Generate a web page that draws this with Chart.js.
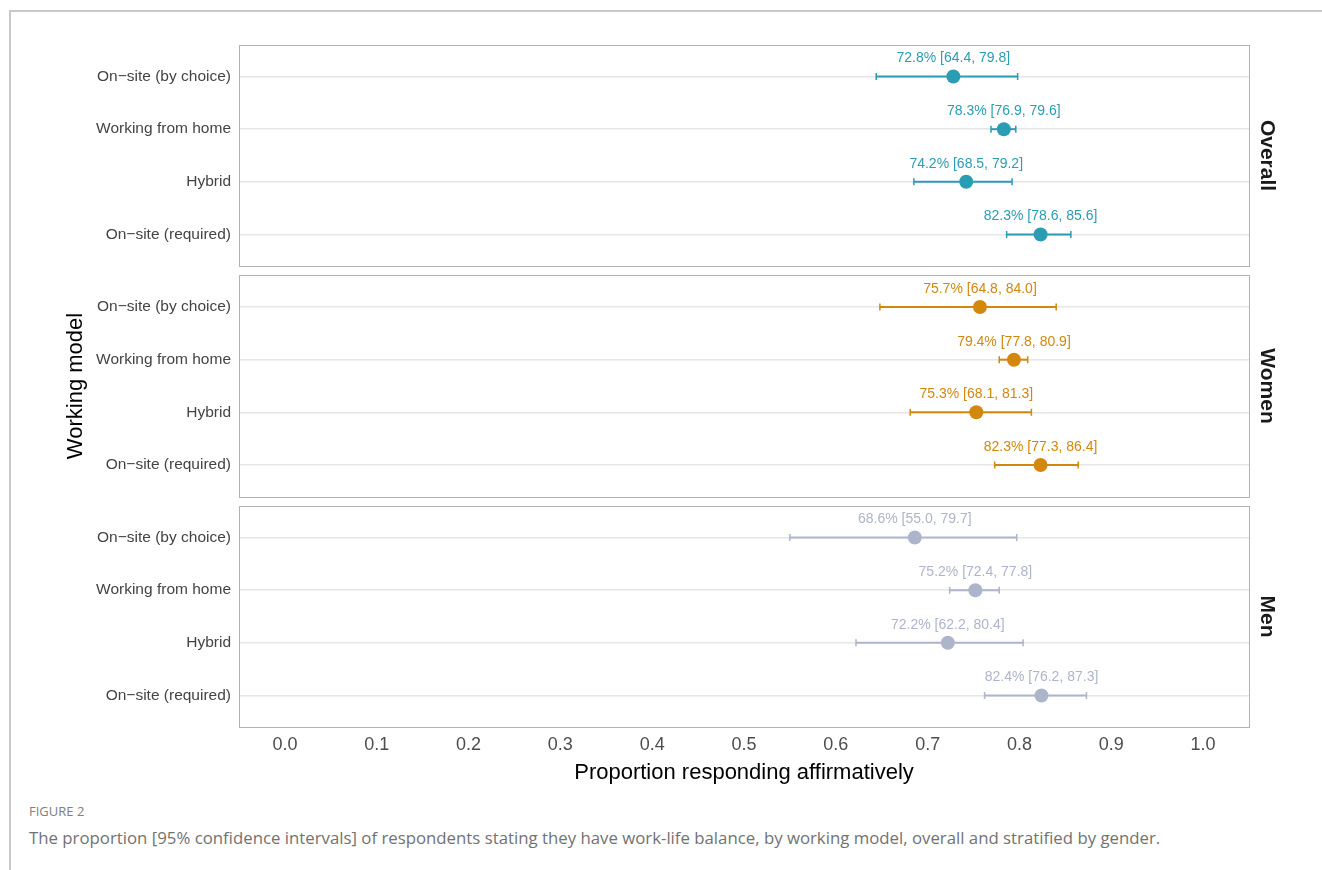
<!DOCTYPE html>
<html>
<head>
<meta charset="utf-8">
<script src="https://cdn.jsdelivr.net/npm/chart.js@4.4.1/dist/chart.umd.min.js"></script>
<style>
  html, body { margin: 0; padding: 0; background: #fff; width: 1322px; height: 870px; overflow: hidden; }
  #frameTop { position: absolute; left: 9px; top: 10px; width: 1313px; height: 0; border-top: 2px solid #c9c9c9; }
  #frameLeft { position: absolute; left: 9px; top: 10px; width: 0; height: 860px; border-left: 2px solid #c9c9c9; }
  #wrap { position: absolute; left: 0; top: 0; width: 1322px; height: 800px; }
  #figLabel { position: absolute; left: 29px; top: 802px; font: 400 13px "Open Sans", sans-serif; color: #808080; }
  #caption { position: absolute; left: 29px; top: 826px; font: 400 16.8px "Open Sans", sans-serif; color: #727272; white-space: nowrap; }
</style>
</head>
<body>
<div id="frameTop"></div>
<div id="frameLeft"></div>
<div id="wrap"><canvas id="chart" width="1322" height="800"></canvas></div>
<div id="figLabel">FIGURE 2</div>
<div id="caption">The proportion [95% confidence intervals] of respondents stating they have work-life balance, by working model, overall and stratified by gender.</div>
<script>
// Working models, listed top to bottom within each panel
const models = ['On\u2212site (by choice)', 'Working from home', 'Hybrid', 'On\u2212site (required)'];
const groups = ['Overall', 'Women', 'Men'];

// Proportion (%) with 95% confidence limits
const overallEst  = [72.8, 78.3, 74.2, 82.3];
const overallLow  = [64.4, 76.9, 68.5, 78.6];
const overallHigh = [79.8, 79.6, 79.2, 85.6];

const womenEst  = [75.7, 79.4, 75.3, 82.3];
const womenLow  = [64.8, 77.8, 68.1, 77.3];
const womenHigh = [84.0, 80.9, 81.3, 86.4];

const menEst  = [68.6, 75.2, 72.2, 82.4];
const menLow  = [55.0, 72.4, 62.2, 76.2];
const menHigh = [79.7, 77.8, 80.4, 87.3];

const xTickValues = [0, 0.1, 0.2, 0.3, 0.4, 0.5, 0.6, 0.7, 0.8, 0.9, 1.0];
const xTickLabels = ['0.0', '0.1', '0.2', '0.3', '0.4', '0.5', '0.6', '0.7', '0.8', '0.9', '1.0'];

const groupColors = ['#2a9cb4', '#d3870c', '#adb5ca'];

// Panel geometry on the y scale: each panel holds four rows with 0.6 expansion
const PANEL_SPAN = 4.2;
const PANEL_GAP = 0.18;
const EXPAND = 0.6;
const panelStart = p => p * (PANEL_SPAN + PANEL_GAP);
const rowPos = (p, r) => panelStart(p) + EXPAND + r;

const FONT = '"Liberation Sans", Arial, Helvetica, sans-serif';
Chart.defaults.font.family = FONT;

const series = [
  { est: overallEst, low: overallLow, high: overallHigh },
  { est: womenEst, low: womenLow, high: womenHigh },
  { est: menEst, low: menLow, high: menHigh }
];

const datasets = series.map((s, p) => ({
  label: groups[p],
  data: s.est.map((v, i) => ({ x: v / 100, y: rowPos(p, i), est: v, lo: s.low[i], hi: s.high[i] })),
  backgroundColor: groupColors[p],
  borderColor: groupColors[p],
  borderWidth: 0,
  pointRadius: 7,
  pointHoverRadius: 7,
  showLine: false
}));

const yTickPositions = [];
groups.forEach((g, p) => models.forEach((m, r) => yTickPositions.push(rowPos(p, r))));

// Panel frames and rotated strip labels
const panelPlugin = {
  id: 'panels',
  beforeDatasetsDraw(chart) {
    const { ctx, chartArea, scales: { y } } = chart;
    ctx.save();
    groups.forEach((g, p) => {
      const top = Math.round(y.getPixelForValue(panelStart(p)));
      const bottom = Math.round(y.getPixelForValue(panelStart(p) + PANEL_SPAN));
      ctx.strokeStyle = '#b3b3b3';
      ctx.lineWidth = 1;
      ctx.strokeRect(chartArea.left + 0.5, top + 0.5, chartArea.right - chartArea.left, bottom - top);
      ctx.save();
      ctx.translate(chartArea.right + 18, (top + bottom) / 2);
      ctx.rotate(Math.PI / 2);
      ctx.fillStyle = '#1a1a1a';
      ctx.font = 'bold 21px ' + FONT;
      ctx.textAlign = 'center';
      ctx.textBaseline = 'middle';
      ctx.fillText(g, 0, 0);
      ctx.restore();
    });
    ctx.restore();
  }
};

// Confidence interval whiskers with end caps
const errorBarPlugin = {
  id: 'errorBars',
  beforeDatasetsDraw(chart) {
    const { ctx, scales: { x, y } } = chart;
    ctx.save();
    chart.data.datasets.forEach(ds => {
      ctx.strokeStyle = ds.borderColor;
      ds.data.forEach(d => {
        const x1 = x.getPixelForValue(d.lo / 100);
        const x2 = x.getPixelForValue(d.hi / 100);
        const py = y.getPixelForValue(d.y);
        ctx.lineWidth = 2;
        ctx.beginPath();
        ctx.moveTo(x1, py);
        ctx.lineTo(x2, py);
        ctx.stroke();
        ctx.lineWidth = 1.5;
        ctx.beginPath();
        ctx.moveTo(x1, py - 3.5); ctx.lineTo(x1, py + 3.5);
        ctx.moveTo(x2, py - 3.5); ctx.lineTo(x2, py + 3.5);
        ctx.stroke();
      });
    });
    ctx.restore();
  }
};

// Value labels above each point
const valueLabelPlugin = {
  id: 'valueLabels',
  afterDatasetsDraw(chart) {
    const { ctx, scales: { x, y } } = chart;
    ctx.save();
    ctx.font = '14px ' + FONT;
    ctx.textAlign = 'center';
    ctx.textBaseline = 'middle';
    chart.data.datasets.forEach(ds => {
      ctx.fillStyle = ds.borderColor;
      ds.data.forEach(d => {
        const txt = d.est.toFixed(1) + '% [' + d.lo.toFixed(1) + ', ' + d.hi.toFixed(1) + ']';
        ctx.fillText(txt, x.getPixelForValue(d.est / 100), y.getPixelForValue(d.y) - 18);
      });
    });
    ctx.restore();
  }
};

new Chart(document.getElementById('chart'), {
  type: 'scatter',
  data: { datasets },
  options: {
    responsive: false,
    animation: false,
    devicePixelRatio: 1,
    layout: { padding: { top: 45, right: 73, left: 0, bottom: 0 } },
    plugins: { legend: { display: false }, tooltip: { enabled: false } },
    scales: {
      x: {
        type: 'linear',
        min: -0.05,
        max: 1.05,
        afterBuildTicks: s => { s.ticks = xTickValues.map(v => ({ value: v })); },
        afterFit: s => { s.height = 73; },
        ticks: {
          autoSkip: false,
          maxRotation: 0,
          padding: 7,
          color: '#4d4d4d',
          font: { size: 18 },
          callback: (v, i) => xTickLabels[i]
        },
        grid: { display: false, drawTicks: false },
        border: { display: false },
        title: {
          display: true,
          text: 'Proportion responding affirmatively',
          color: '#000',
          font: { size: 22 },
          padding: { top: 0, bottom: 13.8 }
        }
      },
      y: {
        type: 'linear',
        reverse: true,
        min: 0,
        max: 3 * PANEL_SPAN + 2 * PANEL_GAP,
        afterBuildTicks: s => { s.ticks = yTickPositions.map(v => ({ value: v })); },
        afterFit: s => { s.width = 239; },
        ticks: {
          autoSkip: false,
          padding: 8,
          color: '#444',
          font: { size: 15.5 },
          callback: (v, i) => models[i % models.length]
        },
        grid: { color: '#e6e6e6', lineWidth: 1.5, drawTicks: false },
        border: { display: false },
        title: {
          display: true,
          text: 'Working model',
          color: '#000',
          font: { size: 22 },
          padding: { top: 62.8, bottom: 0 }
        }
      }
    }
  },
  plugins: [panelPlugin, errorBarPlugin, valueLabelPlugin]
});
</script>
</body>
</html>
